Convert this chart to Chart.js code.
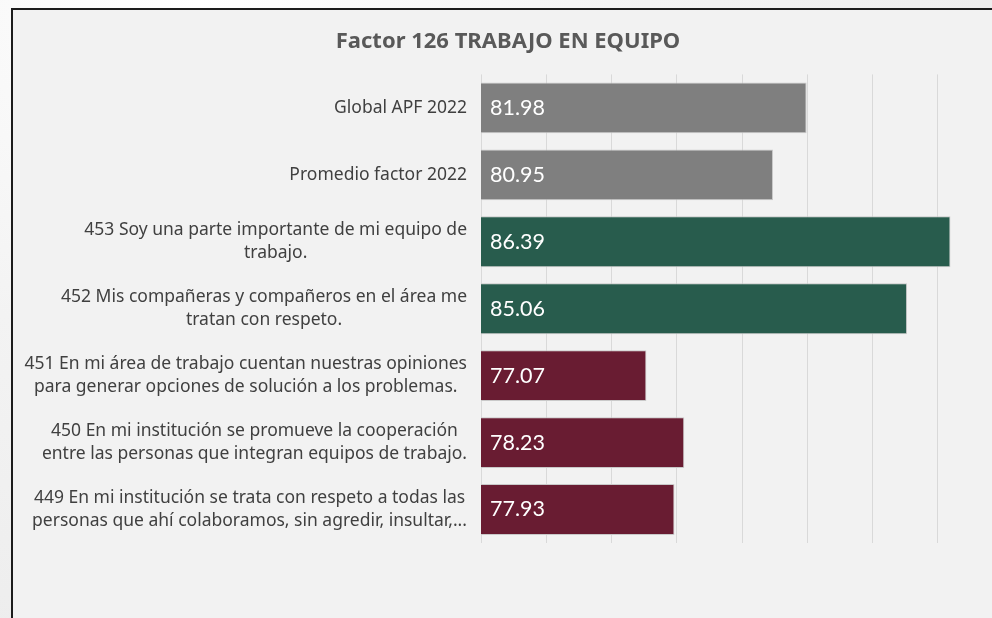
<!DOCTYPE html>
<html>
<head>
<meta charset="utf-8">
<script src="https://cdn.jsdelivr.net/npm/chart.js@4/dist/chart.umd.min.js"></script>
<style>
  html, body { margin: 0; padding: 0; }
  body {
    width: 992px; height: 618px; overflow: hidden; position: relative;
    background: radial-gradient(ellipse at 20% 0%, #ffffff 0%, #f3f3f3 40%, #e9e9e9 100%);
  }
  #box {
    position: absolute; left: 11px; top: 8px; width: 1010px; height: 640px;
    border: 2px solid #1c1c1c; background: #f2f2f2;
  }
  canvas { position: absolute; left: 0; top: 0; }
</style>
</head>
<body>
<div id="box"><canvas id="factor-chart" width="992" height="606"></canvas></div>
<script>
// Categories (top to bottom), split on the lines shown in the slide
const questions = [
  ["Global APF 2022"],
  ["Promedio factor 2022"],
  ["453 Soy una parte importante de mi equipo de", "trabajo."],
  ["452 Mis compañeras y compañeros en el área me", "tratan con respeto."],
  ["451 En mi área de trabajo cuentan nuestras opiniones", "para generar opciones de solución a los problemas."],
  ["450 En mi institución se promueve la cooperación", "entre las personas que integran equipos de trabajo."],
  ["449 En mi institución se trata con respeto a todas las", "personas que ahí colaboramos, sin agredir, insultar,..."]
];
const scores = [81.98, 80.95, 86.39, 85.06, 77.07, 78.23, 77.93];
const barColors = ["#7f7f7f", "#7f7f7f", "#285c4d", "#285c4d", "#691c32", "#691c32", "#691c32"];

const labelFont = '17.5px "Noto Sans"';
const valueFont = '21.5px Lato';

// Category text Excel-style: block right-aligned, lines centered in the block,
// plus the value written inside each bar
const barText = {
  id: "barText",
  afterDraw(chart) {
    const ctx = chart.ctx;
    const yScale = chart.scales.y;
    const xScale = chart.scales.x;
    const right = chart.chartArea.left - 14;
    ctx.save();
    ctx.font = labelFont;
    ctx.fillStyle = "#404040";
    ctx.textAlign = "center";
    ctx.textBaseline = "middle";
    questions.forEach((lines, i) => {
      const y = yScale.getPixelForValue(i);
      const widest = Math.max(...lines.map(l => ctx.measureText(l).width));
      const cx = right - widest / 2;
      const top = y - (lines.length - 1) * 23 / 2;
      lines.forEach((line, j) => ctx.fillText(line, cx, top + j * 23));
    });

    ctx.font = valueFont;
    ctx.fillStyle = "#ffffff";
    ctx.textAlign = "left";
    const base = xScale.getPixelForValue(xScale.min);
    scores.forEach((v, i) => {
      ctx.fillText(v.toFixed(2), base + 9, yScale.getPixelForValue(i));
    });
    ctx.restore();
  }
};

const ctx = document.getElementById("factor-chart");

new Chart(ctx, {
  type: "bar",
  data: {
    labels: questions,
    datasets: [{
      data: scores,
      backgroundColor: barColors,
      borderColor: "#c9c9c9",
      borderWidth: 1,
      borderSkipped: false,
      categoryPercentage: 1,
      barPercentage: 0.76
    }]
  },
  options: {
    indexAxis: "y",
    responsive: false,
    animation: false,
    layout: { padding: { left: 0, right: 2, top: 0, bottom: 73 } },
    plugins: {
      legend: { display: false },
      tooltip: { enabled: false },
      title: {
        display: true,
        text: "Factor 126 TRABAJO EN EQUIPO",
        color: "#595959",
        font: { family: '"Noto Sans"', size: 22, weight: "bold", lineHeight: 1.2 },
        padding: { top: 19, bottom: 19 }
      }
    },
    scales: {
      x: {
        min: 72,
        max: 88,
        ticks: { display: false, stepSize: 2 },
        grid: { color: "#d9d9d9", lineWidth: 1, drawTicks: false },
        border: { display: false },
        afterFit: scale => { scale.height = 0; }
      },
      y: {
        ticks: { display: false },
        grid: { display: false },
        border: { display: false },
        afterFit: scale => { scale.width = 468; }
      }
    }
  },
  plugins: [barText]
});
</script>
</body>
</html>
